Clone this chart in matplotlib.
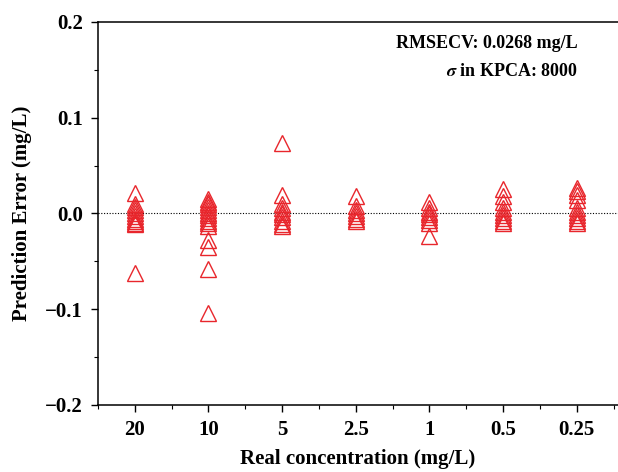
import matplotlib
matplotlib.use("Agg")
import matplotlib.pyplot as plt
from matplotlib.ticker import MultipleLocator
import numpy as np

# concentrations (mg/L) shown as categories along x
concentrations = ["20", "10", "5", "2.5", "1", "0.5", "0.25"]

# prediction errors, one list per concentration
err_20 = [0.021, 0.010, 0.007, 0.004, 0.000, -0.003, -0.006, -0.008, -0.010, -0.011, -0.062]
err_10 = [0.015, 0.012, 0.010, 0.007, 0.004, 0.001, -0.002, -0.005, -0.008, -0.010,
          -0.013, -0.028, -0.035, -0.058, -0.104]
err_5 = [0.074, 0.019, 0.010, 0.006, 0.002, -0.001, -0.004, -0.008, -0.011, -0.013]
err_2_5 = [0.018, 0.008, 0.004, 0.000, -0.003, -0.006, -0.008]
err_1 = [0.012, 0.006, 0.002, -0.001, -0.004, -0.007, -0.010, -0.023]
err_0_5 = [0.026, 0.018, 0.012, 0.006, 0.002, -0.002, -0.005, -0.008, -0.010]
err_0_25 = [0.027, 0.023, 0.019, 0.014, 0.006, 0.002, -0.002, -0.005, -0.008, -0.010]

errors = [err_20, err_10, err_5, err_2_5, err_1, err_0_5, err_0_25]

rmsecv = "0.0268"
sigma_kpca = "8000"

plt.rcParams["font.family"] = ["Liberation Serif", "DejaVu Serif"]
plt.rcParams["font.weight"] = "bold"
plt.rcParams["mathtext.fontset"] = "stix"

fig = plt.figure(figsize=(6.18, 4.72), dpi=100)
ax = fig.add_axes([0.1586, 0.142, 0.8414, 0.8114])

for i, vals in enumerate(errors, start=1):
    ax.plot([i] * len(vals), vals, linestyle="none", marker="^", markersize=12,
            markerfacecolor="none", markeredgecolor="#e8262c", markeredgewidth=1.0)

ax.axhline(0, color="black", linestyle=(0, (1, 1.5)), linewidth=0.8, zorder=0)

ax.set_xlim(0.5, 7.56)
ax.set_ylim(-0.2, 0.2)
ax.set_xticks(range(1, len(concentrations) + 1))
ax.set_xticklabels(concentrations)
ax.xaxis.set_minor_locator(MultipleLocator(1.0, offset=0.5))
ax.yaxis.set_major_locator(MultipleLocator(0.1))
ax.yaxis.set_minor_locator(MultipleLocator(0.05))
ax.yaxis.set_major_formatter(plt.FuncFormatter(lambda v, p: f"{v:.1f}".replace("-", "\u2212")))

ax.spines["right"].set_visible(False)
for s in ["left", "bottom", "top"]:
    ax.spines[s].set_linewidth(1.1)

ax.tick_params(axis="both", which="major", direction="out", length=5, width=1.0,
               labelsize=15, pad=6)
ax.tick_params(axis="both", which="minor", direction="out", length=3, width=0.8)
for lab in ax.get_xticklabels() + ax.get_yticklabels():
    lab.set_fontweight("bold")

ax.set_xlabel("Real concentration (mg/L)", fontsize=15, fontweight="bold", labelpad=6)
ax.set_ylabel("Prediction Error (mg/L)", fontsize=15, fontweight="bold", labelpad=9)

ax.text(0.923, 0.945, f"RMSECV: {rmsecv} mg/L", transform=ax.transAxes,
        ha="right", va="center", fontsize=13, fontweight="bold")
ax.text(0.923, 0.872, r"$\mathit{\sigma}$" + f" in KPCA: {sigma_kpca}", transform=ax.transAxes,
        ha="right", va="center", fontsize=13, fontweight="bold")

fig.savefig("out.png", dpi=100)
